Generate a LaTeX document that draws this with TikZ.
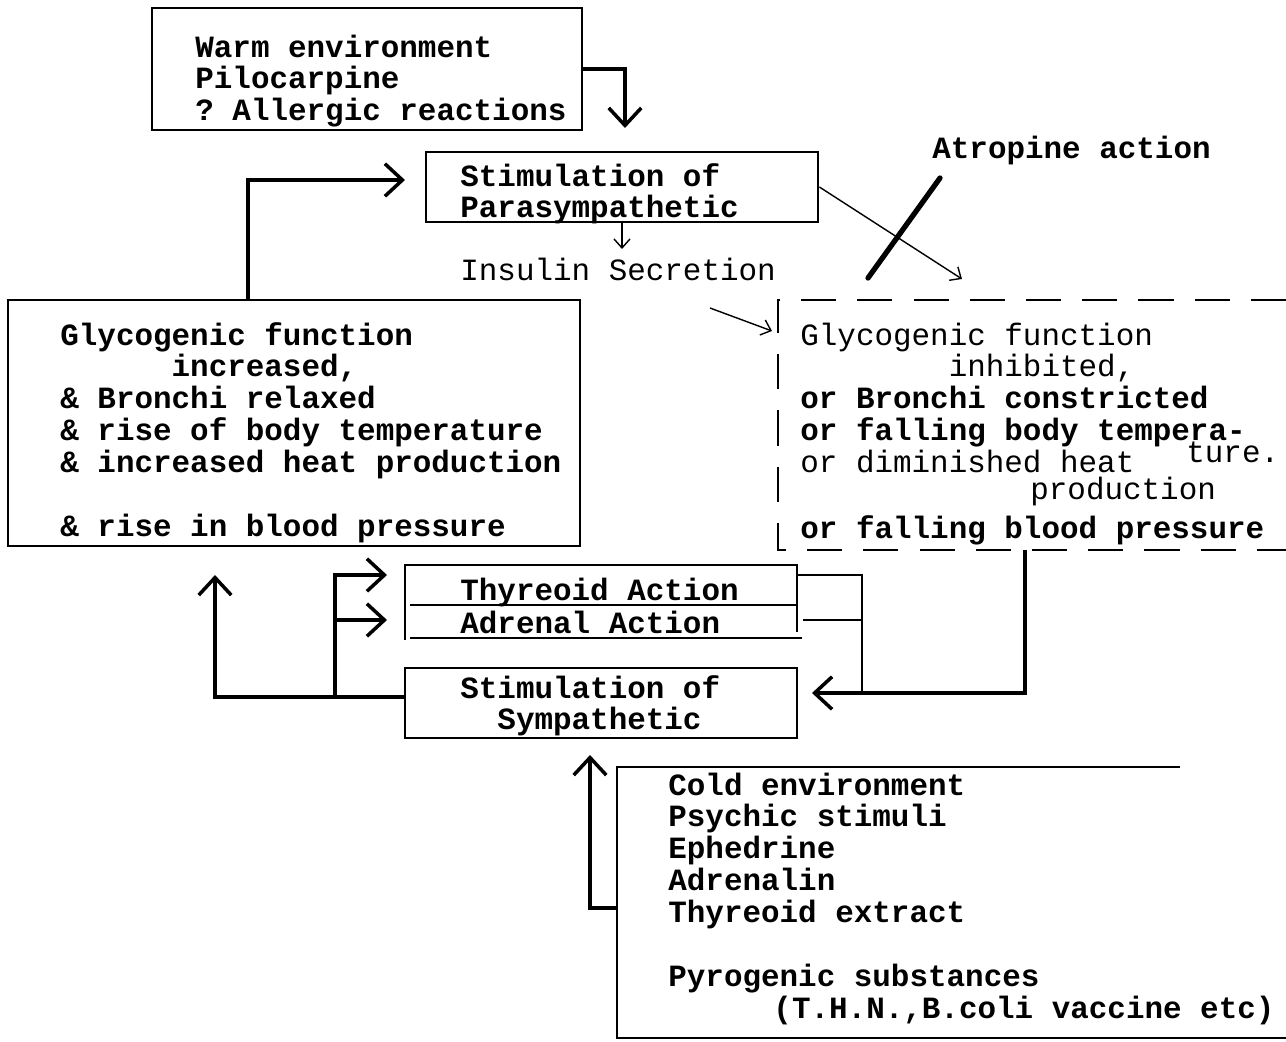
\documentclass[tikz,border=0pt]{standalone}
\usepackage{fontspec}
\setmonofont{Liberation Mono}
\usetikzlibrary{arrows.meta, fit}
\newcommand{\typewr}{\fontsize{17.6}{18.2}\selectfont\ttfamily}

\begin{document}
\begin{tikzpicture}[x=0.02cm, y=-0.02cm,
  >={Straight Barb[length=3.5mm, width=6.5mm]},
  txt/.style={font=\typewr\bfseries, inner sep=0pt, anchor=base west},
  plain/.style={txt, font=\typewr},
  blk/.style={align=flush left, text width=14cm},
  bx/.style={draw, line width=1.6pt, inner sep=0pt},
  rul/.style={line width=1.6pt},
  lnk/.style={line width=2pt, ->},
  fine/.style={line width=0.8pt, -{Straight Barb[length=1.8mm, width=3.2mm]}}
]
\useasboundingbox (0,0) rectangle (1286,1042);

% top box
\node[bx, fit={(152,8) (582,130)}] (warmbox) {};
\node[txt, blk] (warm) at (195,57)
  {Warm environment\\ Pilocarpine\\ ? Allergic reactions};

% parasympathetic
\node[bx, fit={(426,152) (818,222)}] (parabox) {};
\node[txt, blk] (para) at (460,186) {Stimulation of\\ Parasympathetic};
\node[plain] (insulin) at (460,280) {Insulin Secretion};
\node[txt] (atropine) at (932,158) {Atropine action};

% left box
\node[bx, fit={(8,300) (580,546)}] (glybox) {};
\node[txt, blk] (glyup) at (60,345)
  {Glycogenic function\\ \hspace*{3.6em}increased,\\ \& Bronchi relaxed\\
   \& rise of body temperature\\ \& increased heat production\\[\baselineskip]
   \& rise in blood pressure};

% right box, dashed and open
\draw[rul, dash pattern=on 20pt off 12pt] (1286,300) -- (778,300) -- (778,550) -- (1286,550);
\node[plain, blk] (glydown) at (800,345)
  {Glycogenic function\\ \hspace*{4.8em}inhibited,\\ \textbf{or Bronchi constricted}\\
   \textbf{or falling body tempera-}\\ or diminished heat};
\node[plain] (ture) at (1186,462) {ture.};
\node[plain] (prod) at (1030,499) {production};
\node[txt] (fallbp) at (800,538) {or falling blood pressure};

% thyreoid / adrenal
\draw[rul] (405,640) -- (405,565) -- (797,565) -- (797,632);
\draw[rul] (410,605) -- (797,605);
\draw[rul] (410,638) -- (802,638);
\node[txt] (thyr) at (460,600) {Thyreoid Action};
\node[txt] (adren) at (460,633) {Adrenal Action};

% sympathetic
\node[bx, fit={(405,668) (797,738)}] (sympbox) {};
\node[txt, blk] (symp) at (460,698) {Stimulation of\\ \hspace*{1.2em}Sympathetic};

% bottom box, open
\draw[rul] (1180,767) -- (617,767) -- (617,1038) -- (1286,1038);
\node[txt, blk] (cold) at (668,795)
  {Cold environment\\ Psychic stimuli\\ Ephedrine\\ Adrenalin\\ Thyreoid extract\\[\baselineskip]
   Pyrogenic substances\\ \hspace*{3.4em}(T.H.N.,B.coli vaccine etc)};

% connectors
\coordinate (warmdrop) at (625,128);
\coordinate (glyout) at (248,300);
\coordinate (parain) at (405,180);
\coordinate (insin) at (622,249);
\coordinate (insout) at (710,308);
\coordinate (dashin) at (772,331);
\coordinate (atrotip) at (962,279);
\coordinate (slasha) at (940,178);
\coordinate (slashb) at (868,278);
\coordinate (dashout) at (1025,550);
\coordinate (sympin) at (812,693);
\coordinate (thyrout) at (797,575);
\coordinate (adrout) at (803,620);
\coordinate (fbjoin) at (862,693);
\coordinate (sympout) at (405,697);
\coordinate (glyin) at (215,575);
\coordinate (branch) at (335,697);
\coordinate (thyrin) at (387,575);
\coordinate (adrin) at (387,620);
\coordinate (coldout) at (617,908);
\coordinate (sympup) at (590,755);

\draw[lnk] (warmbox.east) -| (warmdrop);
\draw[lnk] (glyout) |- (parain);
\draw[fine] (parabox.south) -- (insin);
\draw[fine] (insout) -- (dashin);
\draw[fine] (parabox.east) -- (atrotip);
\draw[line width=3pt, line cap=round] (slasha) -- (slashb);
\draw[lnk] (dashout) |- (sympin);
\draw[rul] (thyrout) -| (fbjoin);
\draw[rul] (adrout) -- (adrout -| fbjoin);
\draw[lnk] (sympout) -| (glyin);
\draw[lnk] (branch) |- (thyrin);
\draw[lnk] (branch |- adrin) -- (adrin);
\draw[lnk] (coldout) -| (sympup);
\end{tikzpicture}
\end{document}
